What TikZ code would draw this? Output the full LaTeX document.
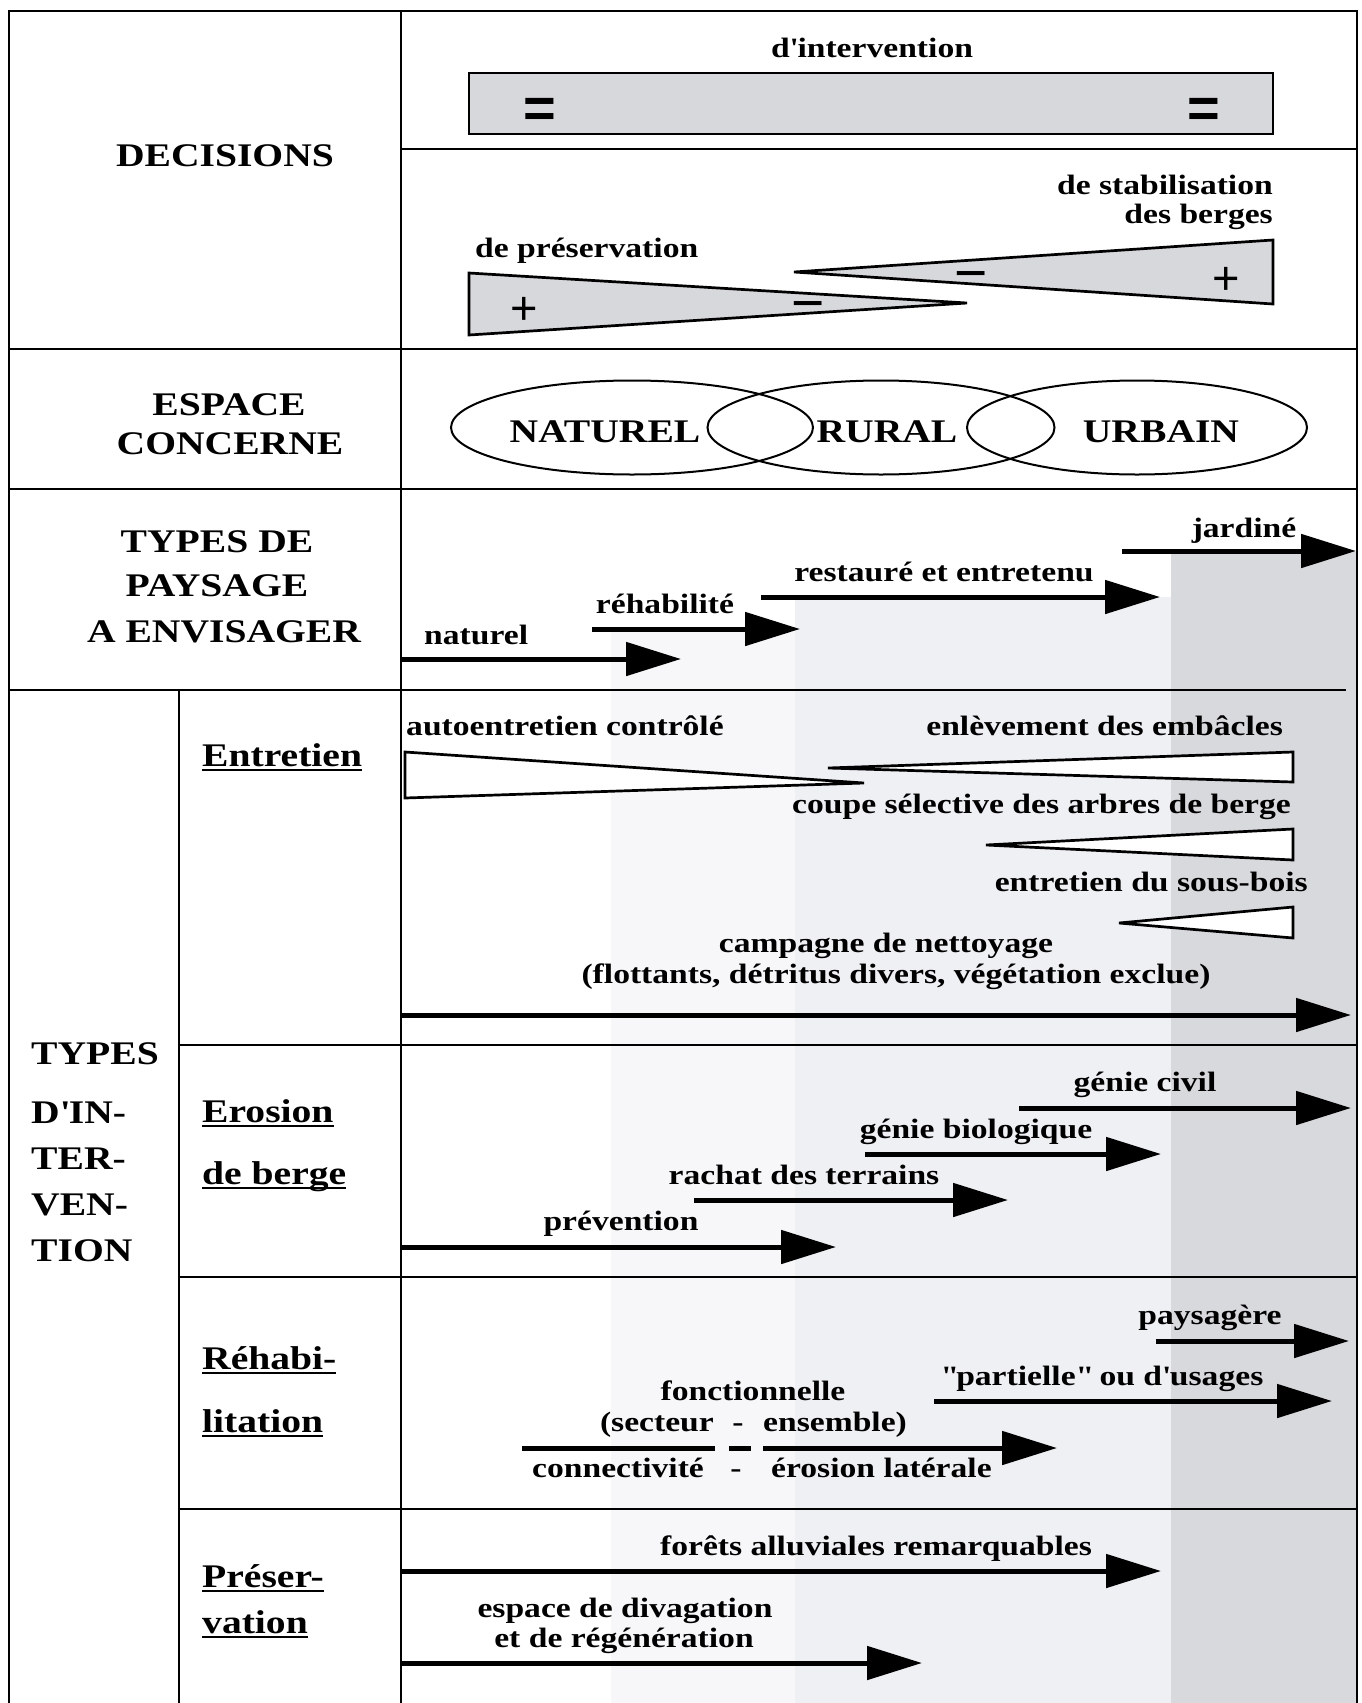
\documentclass[tikz,border=0pt]{standalone}
\usepackage{fontspec}
\setmainfont{Liberation Serif}[FakeStretch=1.2]
\newfontfamily\signfont{Liberation Sans}
\usetikzlibrary{arrows.meta}

\definecolor{paleband}{HTML}{F7F7F9}
\definecolor{lightband}{HTML}{EFF0F4}
\definecolor{greyband}{HTML}{D8D9DD}
\definecolor{wedgefill}{HTML}{D7D8DC}

% underline at a fixed depth, descenders are ignored
\newcommand{\ulbox}[1]{\setbox0=\hbox{#1}\rlap{\vrule height -2.5pt depth 5pt width \wd0}\box0}

\tikzset{
    rule/.style={line width=2.7pt},
    flow/.style={line width=5pt,-{Triangle[length=55pt,width=33pt]}},
    wedge/.style={draw,line width=2.7pt,fill=wedgefill},
    blank wedge/.style={draw,line width=2.7pt,fill=white},
    zone/.style={line width=2pt},
    heading/.style={font=\fontsize{33}{40}\selectfont\bfseries,inner sep=0pt},
    txt/.style={font=\fontsize{28}{30}\selectfont\bfseries,inner sep=0pt},
    eqsign/.style={font=\signfont\bfseries\fontsize{56}{56}\selectfont,inner sep=0pt,anchor=base},
    plussign/.style={font=\signfont\fontsize{47}{47}\selectfont,inner sep=0pt,anchor=base},
    minussign/.style={font=\signfont\fontsize{57}{57}\selectfont,inner sep=0pt,anchor=base}
}

\begin{document}
\begin{tikzpicture}[x=1pt,y=-1pt]
    \useasboundingbox (0,0) rectangle (1362,1703);

    % shaded bands behind the lower rows
    \fill[paleband]  (611,632) rectangle (795,1703);
    \fill[lightband] (795,597) rectangle (1171,1703);
    \fill[greyband]  (1171,552) rectangle (1357,1703);

    % table rules
    \draw[rule] (9,1703) -- (9,11) -- (1357,11) -- (1357,1703);
    \draw[rule] (401,11) -- (401,1703);
    \draw[rule] (179,690) -- (179,1703);
    \draw[rule] (401,149) -- (1357,149);
    \draw[rule] (9,349) -- (1357,349);
    \draw[rule] (9,489) -- (1357,489);
    \draw[rule] (9,690) -- (1346,690);
    \foreach \y in {1045,1277,1509}
        \draw[rule] (179,\y) -- (1357,\y);

    % left column
    \node[heading,anchor=base] (decisions) at (225,166) {DECISIONS};
    \node[heading,anchor=base] (espace) at (229,415) {ESPACE};
    \node[heading,anchor=base] (concerne) at (230,454) {CONCERNE};
    \node[heading,anchor=base] (types1) at (217,552) {TYPES DE};
    \node[heading,anchor=base] (types2) at (217,596) {PAYSAGE};
    \node[heading,anchor=base] (types3) at (224,642) {A ENVISAGER};
    \node[heading,anchor=base west] (ti1) at (31,1064) {TYPES};
    \node[heading,anchor=base west] (ti2) at (31,1123) {D\textquotesingle IN-};
    \node[heading,anchor=base west] (ti3) at (31,1169) {TER-};
    \node[heading,anchor=base west] (ti4) at (31,1215) {VEN-};
    \node[heading,anchor=base west] (ti5) at (31,1261) {TION};
    \node[heading,anchor=base west] (entretien) at (202,766) {\ulbox{Entretien}};
    \node[heading,anchor=base west] (erosion1) at (202,1122) {\ulbox{Erosion}};
    \node[heading,anchor=base west] (erosion2) at (202,1184) {\ulbox{de berge}};
    \node[heading,anchor=base west] (rehab1) at (202,1369) {\ulbox{Réhabi-}};
    \node[heading,anchor=base west] (rehab2) at (202,1432) {\ulbox{litation}};
    \node[heading,anchor=base west] (preser1) at (202,1587) {\ulbox{Préser-}};
    \node[heading,anchor=base west] (preser2) at (202,1633) {\ulbox{vation}};

    % decisions
    \draw[wedge] (469,73) rectangle (1273,134);
    \node[txt,anchor=base] (interv) at (872,57) {d\textquotesingle intervention};
    \node[eqsign] (eqL) at (540,127) {=};
    \node[eqsign] (eqR) at (1204,127) {=};
    \draw[wedge] (469,273) -- (967,303) -- (469,335) -- cycle;
    \draw[wedge] (794,272) -- (1273,240) -- (1273,304) -- cycle;
    \node[txt,anchor=base west] (preserv) at (475,257) {de préservation};
    \node[txt,anchor=base east] (stab1) at (1273,194) {de stabilisation};
    \node[txt,anchor=base east] (stab2) at (1273,223) {des berges};
    \node[plussign] (plusL) at (524,324) {+};
    \node[minussign] (minusL) at (808,322) {−};
    \node[minussign] (minusR) at (971,292) {−};
    \node[plussign] (plusR) at (1226,294) {+};

    % espace concerne
    \draw[zone] (632,427.5) ellipse [x radius=181,y radius=47];
    \draw[zone] (881,427.5) ellipse [x radius=173.5,y radius=47];
    \draw[zone] (1137,427.5) ellipse [x radius=170,y radius=47];
    \node[heading,anchor=base] (zoneN) at (605,442) {NATUREL};
    \node[heading,anchor=base] (zoneR) at (887,442) {RURAL};
    \node[heading,anchor=base] (zoneU) at (1161,442) {URBAIN};

    % types de paysage
    \coordinate (pnat-s) at (401,659);  \coordinate (pnat-e) at (681,659);
    \coordinate (preh-s) at (592,629);  \coordinate (preh-e) at (800,629);
    \coordinate (pres-s) at (761,597);  \coordinate (pres-e) at (1160,597);
    \coordinate (pjar-s) at (1122,551); \coordinate (pjar-e) at (1356,551);
    \draw[flow] (pnat-s) -- (pnat-e);
    \draw[flow] (preh-s) -- (preh-e);
    \draw[flow] (pres-s) -- (pres-e);
    \draw[flow] (pjar-s) -- (pjar-e);
    \node[txt,anchor=base west] (pnat) at (424,644) {naturel};
    \node[txt,anchor=base] (preh) at (665,613) {réhabilité};
    \node[txt,anchor=base] (pres) at (944,581) {restauré et entretenu};
    \node[txt,anchor=base] (pjar) at (1244,537) {jardiné};

    % entretien
    \draw[blank wedge] (405,752) -- (864,783) -- (405,798) -- cycle;
    \draw[blank wedge] (828,768) -- (1293,752) -- (1293,782) -- cycle;
    \draw[blank wedge] (986,845) -- (1293,829) -- (1293,860) -- cycle;
    \draw[blank wedge] (1119,923) -- (1293,907) -- (1293,938) -- cycle;
    \node[txt,anchor=base west] (auto) at (406,735) {autoentretien contrôlé};
    \node[txt,anchor=base east] (embacles) at (1283,735) {enlèvement des embâcles};
    \node[txt,anchor=base east] (coupe) at (1291,813) {coupe sélective des arbres de berge};
    \node[txt,anchor=base east] (sousbois) at (1308,891) {entretien du sous-bois};
    \node[txt,anchor=base] (camp1) at (886,952) {campagne de nettoyage};
    \node[txt,anchor=base] (camp2) at (896,983) {(flottants, détritus divers, végétation exclue)};
    \coordinate (camp-s) at (401,1015); \coordinate (camp-e) at (1351,1015);
    \draw[flow] (camp-s) -- (camp-e);

    % erosion de berge
    \coordinate (civ-s) at (1019,1108);  \coordinate (civ-e) at (1351,1108);
    \coordinate (bio-s) at (865,1154);   \coordinate (bio-e) at (1161,1154);
    \coordinate (rach-s) at (694,1200);  \coordinate (rach-e) at (1008,1200);
    \coordinate (prev-s) at (401,1247);  \coordinate (prev-e) at (836,1247);
    \draw[flow] (civ-s) -- (civ-e);
    \draw[flow] (bio-s) -- (bio-e);
    \draw[flow] (rach-s) -- (rach-e);
    \draw[flow] (prev-s) -- (prev-e);
    \node[txt,anchor=base] (civ) at (1145,1091) {génie civil};
    \node[txt,anchor=base] (bio) at (976,1138) {génie biologique};
    \node[txt,anchor=base] (rach) at (804,1184) {rachat des terrains};
    \node[txt,anchor=base] (prev) at (621,1230) {prévention};

    % rehabilitation
    \coordinate (pays-s) at (1156,1341); \coordinate (pays-e) at (1349,1341);
    \coordinate (part-s) at (934,1401);  \coordinate (part-e) at (1332,1401);
    \draw[flow] (pays-s) -- (pays-e);
    \draw[flow] (part-s) -- (part-e);
    \node[txt,anchor=base] (pays) at (1210,1324) {paysagère};
    \node[txt,anchor=base] (part) at (1102,1385) {\textquotedbl partielle\textquotedbl{} ou d\textquotesingle usages};
    \node[txt,anchor=base] (fonc) at (753,1400) {fonctionnelle};
    \node[txt,anchor=base east] (secteur) at (714,1431) {(secteur};
    \node[txt,anchor=base] (dashA) at (738,1431) {-};
    \node[txt,anchor=base west] (ensemble) at (763,1431) {ensemble)};
    \coordinate (fA-s) at (522,1448); \coordinate (fA-e) at (715,1448);
    \coordinate (fB-s) at (729,1448); \coordinate (fB-e) at (751,1448);
    \coordinate (fC-s) at (763,1448); \coordinate (fC-e) at (1057,1448);
    \draw[line width=5pt] (fA-s) -- (fA-e);
    \draw[line width=5pt] (fB-s) -- (fB-e);
    \draw[flow] (fC-s) -- (fC-e);
    \node[txt,anchor=base west] (connect) at (532,1477) {connectivité};
    \node[txt,anchor=base] (dashB) at (736,1477) {-};
    \node[txt,anchor=base west] (laterale) at (771,1477) {érosion latérale};

    % preservation
    \coordinate (foret-s) at (401,1571); \coordinate (foret-e) at (1161,1571);
    \coordinate (divag-s) at (401,1663); \coordinate (divag-e) at (922,1663);
    \draw[flow] (foret-s) -- (foret-e);
    \draw[flow] (divag-s) -- (divag-e);
    \node[txt,anchor=base] (foret) at (876,1555) {forêts alluviales remarquables};
    \node[txt,anchor=base] (divag1) at (625,1617) {espace de divagation};
    \node[txt,anchor=base] (divag2) at (624,1647) {et de régénération};
\end{tikzpicture}
\end{document}
